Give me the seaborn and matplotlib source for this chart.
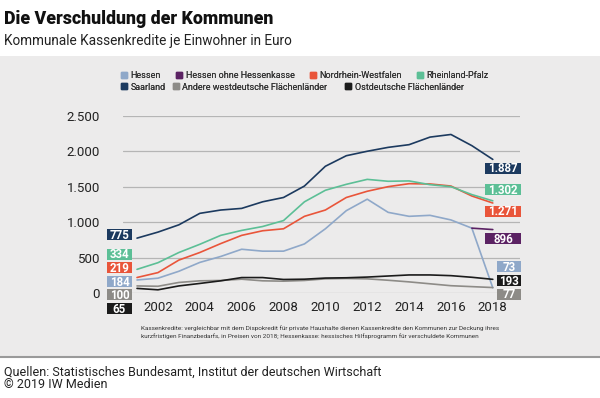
import matplotlib
matplotlib.use("Agg")
import matplotlib.pyplot as plt
from matplotlib.lines import Line2D
from matplotlib.patches import Rectangle
from matplotlib.path import Path
from matplotlib.ticker import FuncFormatter
import seaborn as sns
import pandas as pd

years = list(range(2001, 2019))

hessen = [184, 209, 307, 432, 516, 618, 591, 591, 693, 907, 1163, 1325, 1139, 1083, 1097, 1032, 916, 73]
hessen_ohne = [None] * 16 + [916, 896]
nrw = [219, 288, 465, 572, 698, 814, 879, 907, 1083, 1172, 1349, 1437, 1502, 1544, 1540, 1511, 1370, 1271]
rlp = [334, 428, 572, 688, 814, 884, 939, 1023, 1288, 1451, 1535, 1605, 1578, 1583, 1530, 1502, 1390, 1302]
saarland = [775, 860, 963, 1125, 1172, 1195, 1288, 1349, 1511, 1790, 1939, 2002, 2057, 2095, 2202, 2239, 2081, 1887]
andere = [100, 95, 149, 172, 177, 195, 172, 167, 177, 200, 205, 200, 180, 157, 130, 103, 90, 77]
ost = [65, 45, 100, 135, 172, 218, 218, 191, 195, 211, 215, 225, 240, 255, 255, 245, 222, 193]

names = ["Hessen", "Hessen ohne Hessenkasse", "Nordrhein-Westfalen", "Rheinland-Pfalz",
         "Saarland", "Andere westdeutsche Flächenländer", "Ostdeutsche Flächenländer"]
series = [hessen, hessen_ohne, nrw, rlp, saarland, andere, ost]
colors = ["#8fa8c9", "#5b2263", "#e9553a", "#5cbf96", "#1c3a5f", "#8d8b87", "#1b1b1b"]
palette = dict(zip(names, colors))

# label boxes: (series, text, y position of the box in data units)
left_labels = [("Saarland", "775", 819), ("Rheinland-Pfalz", "334", 537),
               ("Nordrhein-Westfalen", "219", 345), ("Hessen", "184", 148),
               ("Andere westdeutsche Flächenländer", "100", -35),
               ("Ostdeutsche Flächenländer", "65", -233)]
right_labels = [("Saarland", "1.887", 1752), ("Rheinland-Pfalz", "1.302", 1442),
                ("Nordrhein-Westfalen", "1.271", 1145), ("Hessen ohne Hessenkasse", "896", 752),
                ("Hessen", "73", 360), ("Ostdeutsche Flächenländer", "193", 169),
                ("Andere westdeutsche Flächenländer", "77", -28)]

rows = []
for name, vals in zip(names, series):
    for y, v in zip(years, vals):
        if v is not None:
            rows.append({"Jahr": y, "Wert": v, "Land": name})
df = pd.DataFrame(rows)

sns.set_theme(style="white")
plt.rcParams["font.family"] = ["Roboto", "DejaVu Sans"]

bg = "#ecebeb"
fig = plt.figure(figsize=(6, 3.98), dpi=100)
fig.patch.set_facecolor("white")
H = 398.0
fig.patches.append(Rectangle((0, (H - 357) / H), 1, (357 - 56) / H, transform=fig.transFigure,
                             facecolor=bg, edgecolor="none", zorder=-10))
fig.lines.append(Line2D([0, 1], [(H - 357) / H] * 2, transform=fig.transFigure,
                        color="#9a9a9a", lw=1.5, zorder=-9))

ax = fig.add_axes([123 / 600, (H - 293) / H, (520 - 123) / 600, (293 - 116) / H])
ax.set_facecolor(bg)

sns.lineplot(data=df, x="Jahr", y="Wert", hue="Land", hue_order=names, palette=palette,
             linewidth=1.2, legend=False, ax=ax)

ax.set_xlim(2000.33, 2019.3)
ax.set_ylim(0, 2500)
ax.set_xticks(range(2002, 2019, 2))
ax.set_yticks(range(0, 2501, 500))
ax.yaxis.set_major_formatter(FuncFormatter(lambda v, p: f"{v:,.0f}".replace(",", ".")))
ax.grid(axis="y", color="#b5b5b5", lw=0.9)
ax.set_axisbelow(True)
for s in ax.spines.values():
    s.set_visible(False)
ax.tick_params(length=0, labelsize=9.5, colors="#222222")
ax.tick_params(axis="x", pad=6)
ax.tick_params(axis="y", pad=16.5)
ax.set_xlabel("")
ax.set_ylabel("")


def fixed_box(w_px, h_px):
    # rectangle of fixed size around the text centre
    def style(x0, y0, width, height, mutation_size):
        cx = x0 + width / 2
        cy = y0 + height / 2 + 0.08 * mutation_size
        w = max(w_px, width + 4)
        verts = [(cx - w / 2, cy - h_px / 2), (cx + w / 2, cy - h_px / 2),
                 (cx + w / 2, cy + h_px / 2), (cx - w / 2, cy + h_px / 2),
                 (cx - w / 2, cy - h_px / 2)]
        return Path(verts, closed=True)
    return style


def value_box(txt, x_off, ypos, color, w_px, xfrac):
    ax.annotate(txt, xy=(xfrac, ypos), xycoords=("axes fraction", "data"),
                xytext=(x_off, 0), textcoords="offset pixels", ha="center", va="center",
                color="white", fontsize=8.3, fontweight="bold", annotation_clip=False,
                bbox=dict(boxstyle=fixed_box(w_px, 11), fc=color, ec="none"))


for name, txt, ypos in left_labels:
    value_box(txt, -3.5, ypos, palette[name], 25, 0)
for name, txt, ypos in right_labels:
    w = 36 if len(txt) > 3 or txt == "896" else 24
    value_box(txt, 1 - w / 2, ypos, palette[name], w, 1)

# legend: groups of entries with their anchor (x px, y px) and column spacing
legend_groups = [(names[0:4], 121, 76, 1.7), (names[4:5], 121, 87, 1.0),
                 (names[5:7], 173, 87, 2.0)]


def handles(sel):
    return [Line2D([], [], marker="s", ls="", markersize=5, color=palette[n], label=n) for n in sel]


for sel, lx, ly, cs in legend_groups:
    leg = fig.legend(handles=handles(sel), ncol=len(sel), columnspacing=cs,
                     bbox_to_anchor=(lx / 600, (H - ly) / H), frameon=False, fontsize=6.5,
                     handlelength=0.6, handletextpad=0.45, borderpad=0, borderaxespad=0,
                     labelcolor="#333333", loc="center left")
    fig.add_artist(leg)

fig.text(4 / 600, (H - 19) / H, "Die Verschuldung der Kommunen", fontsize=12.8,
         fontweight="heavy", color="#111111", va="center")
fig.text(4 / 600, (H - 41) / H, "Kommunale Kassenkredite je Einwohner in Euro", fontsize=9.8,
         color="#222222", va="center")
fig.text(141 / 600, (H - 332) / H,
         "Kassenkredite: vergleichbar mit dem Dispokredit für private Haushalte dienen Kassenkredite den Kommunen zur Deckung ihres\n"
         "kurzfristigen Finanzbedarfs, in Preisen von 2018; Hessenkasse: hessisches Hilfsprogramm für verschuldete Kommunen",
         fontsize=4.6, color="#333333", va="center", linespacing=1.6)
fig.text(4 / 600, (H - 372) / H, "Quellen: Statistisches Bundesamt, Institut der deutschen Wirtschaft",
         fontsize=9.0, color="#222222", va="center")
fig.text(4 / 600, (H - 385) / H, "© 2019 IW Medien", fontsize=9.0, color="#222222", va="center")

fig.savefig("out.png", dpi=100, facecolor=fig.get_facecolor())
